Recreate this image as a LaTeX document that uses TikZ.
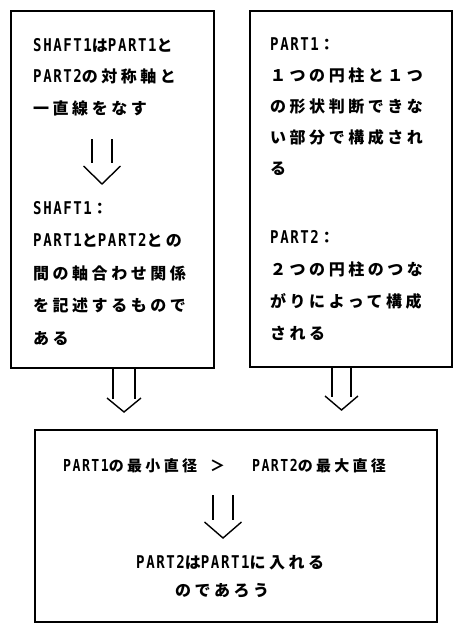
\documentclass[tikz,border=0pt]{standalone}
\usepackage{fontspec}
\usetikzlibrary{calc}
\newfontfamily\jpfont{Noto Sans CJK JP}[LetterSpace=22]
\newfontfamily\ascfont{DejaVu Sans Mono}[Scale=1.1,FakeStretch=0.8,LetterSpace=9]
\newcommand\asc[1]{{\ascfont\bfseries #1}}
\newcommand\dblarrow[6]{%
  \draw[arrowline] ($(#1)+(-#2,0)$) -- ($(#1)+(-#2,#3)$);
  \draw[arrowline] ($(#1)+(#2,0)$) -- ($(#1)+(#2,#3)$);
  \draw[arrowline] ($(#1)+(-#6,#4)$) -- ($(#1)+(0,#5)$) -- ($(#1)+(#6,#4)$);
}
\tikzset{
  frame/.style={draw=black, line width=2.4pt, inner sep=0pt, anchor=north west},
  txt/.style={anchor=base west, align=left, inner sep=0pt,
    font=\jpfont\bfseries\fontsize{16}{#1}\selectfont},
  txt/.default=31.5,
  btxt/.style={anchor=base west, align=left, inner sep=0pt,
    font=\jpfont\bfseries\fontsize{15}{28}\selectfont},
  arrowline/.style={line width=1.4pt}
}
\begin{document}
\begin{tikzpicture}[x=1pt,y=-1pt]
\useasboundingbox[fill=white] (0,0) rectangle (453,624);
% boxes
\node[frame, minimum width=203pt, minimum height=357pt] (L) at (10,10) {};
\node[frame, minimum width=202pt, minimum height=356pt] (R) at (249,10) {};
\node[frame, minimum width=402pt, minimum height=192pt] (B) at (34,429) {};
% left box text (anchor = baseline of the last line)
\node[txt=31.5] (l1) at (33,114) {\asc{SHAFT1}は\asc{PART1}と\\\asc{PART2}の対称軸と\\一直線をなす};
\node[txt=32.5] (l2) at (33,344) {\asc{SHAFT1}：\\\asc{PART1}と\asc{PART2}との\\間の軸合わせ関係\\を記述するもので\\ある};
% right box text
\node[txt=31] (r1) at (270,174) {\asc{PART1}：\\１つの円柱と１つ\\の形状判断できな\\い部分で構成され\\る};
\node[txt=31.7] (r2) at (270,339) {\asc{PART2}：\\２つの円柱のつな\\がりによって構成\\される};
% bottom box text
\node[btxt] (b1) at (63,471) {\asc{PART1}の最小直径\hspace{13pt}＞\hspace{27pt}\asc{PART2}の最大直径};
\node[txt] (b2) at (136,568) {\asc{PART2}は\asc{PART1}に入れる};
\node[txt] (b3) at (175,596) {のであろう};
% arrows
\coordinate (a1) at (102,139);
\coordinate (a2) at (124,367);
\coordinate (a3) at (341.5,366);
\coordinate (a4) at (223,495);
\dblarrow{a1}{10}{24}{27}{45}{18.5}
\dblarrow{a2}{11}{32}{31}{45}{17}
\dblarrow{a3}{9.5}{31}{30}{44}{16.5}
\dblarrow{a4}{10}{25}{27}{43}{18.5}
\end{tikzpicture}
\end{document}
